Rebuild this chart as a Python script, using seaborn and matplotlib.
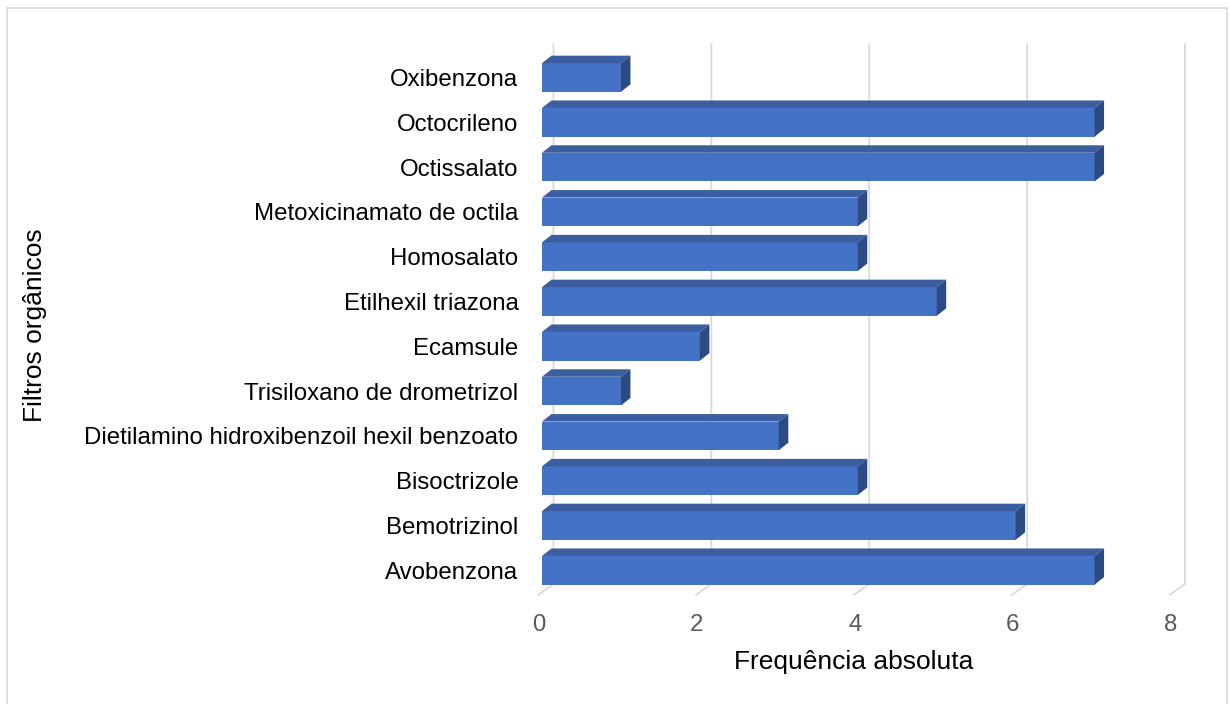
import matplotlib
matplotlib.use("Agg")
import matplotlib.pyplot as plt
import matplotlib.transforms as mtransforms
import seaborn as sns
import pandas as pd
from matplotlib.patches import Polygon, Rectangle
from matplotlib.lines import Line2D

categories = ["Oxibenzona", "Octocrileno", "Octissalato", "Metoxicinamato de octila",
              "Homosalato", "Etilhexil triazona", "Ecamsule", "Trisiloxano de drometrizol",
              "Dietilamino hidroxibenzoil hexil benzoato", "Bisoctrizole", "Bemotrizinol",
              "Avobenzona"]
values = [1, 7, 7, 4, 4, 5, 2, 1, 3, 4, 6, 7]
xticks = [0, 2, 4, 6, 8]
xlabel = "Frequência absoluta"
ylabel = "Filtros orgânicos"

df = pd.DataFrame({"cat": categories, "val": values})

sns.set_theme(style="white")
plt.rcParams["font.family"] = ["Liberation Sans", "DejaVu Sans"]

W, H = 1229, 704
fig = plt.figure(figsize=(W / 100, H / 100), dpi=100)
# pixel geometry
x0px, x8px = 542.0, 1173.5
ytop, ybot = 40.0, 597.0
ax = fig.add_axes([x0px / W, 1 - ybot / H, (x8px - x0px) / W, (ybot - ytop) / H])

front = "#4472C4"
topc = "#3A5E9F"
sidec = "#2C4A84"

sns.barplot(data=df, y="cat", x="val", orient="h", color=front, width=0.64,
            saturation=1, ax=ax, zorder=3, edgecolor="none")

pxx = (x8px - x0px) / 8.0  # px per x unit
pxy = 44.8                 # px per row
c0 = 77.5
ax.set_xlim(0, 8)
ax.set_ylim((ybot - c0) / pxy, (ytop - c0) / pxy)

# 3D faces
dx = 9.5 / pxx
dy = 7.5 / pxy
for p in ax.patches:
    bx, by = p.get_x(), p.get_y()
    bw, bh = p.get_width(), p.get_height()
    yt = min(by, by + bh)
    yb = max(by, by + bh)
    top = Polygon([(bx, yt), (bx + bw, yt), (bx + bw + dx, yt - dy), (bx + dx, yt - dy)],
                  closed=True, facecolor=topc, edgecolor="none", zorder=3, clip_on=False)
    side = Polygon([(bx + bw, yt), (bx + bw + dx, yt - dy), (bx + bw + dx, yb - dy), (bx + bw, yb)],
                   closed=True, facecolor=sidec, edgecolor="none", zorder=3, clip_on=False)
    ax.add_patch(top)
    ax.add_patch(side)

# back-plane gridlines with floor diagonals
gb = 11.5 / pxx
gf = -4.0 / pxx
gy_top = (44 - c0) / pxy
gy_back = (584 - c0) / pxy
gy_front = (595 - c0) / pxy
for t in xticks:
    ax.add_line(Line2D([t + gb, t + gb, t + gf], [gy_top, gy_back, gy_front],
                       color="#d9d9d9", lw=1.3, zorder=1, clip_on=False))

ax.set_xticks(xticks)
ax.set_xticklabels([str(t) for t in xticks])
ax.tick_params(axis="x", length=0, pad=12, labelsize=17.3, labelcolor="#595959")
ax.tick_params(axis="y", length=0, pad=17, labelsize=17.3, labelcolor="#000000")
shift = mtransforms.ScaledTranslation(-3 / 100, 0, fig.dpi_scale_trans)
for lab in ax.get_xticklabels():
    lab.set_transform(lab.get_transform() + shift)
for s in ax.spines.values():
    s.set_visible(False)
ax.set_xlabel("")
ax.set_ylabel("")
ax.grid(False)

fig.text(854 / W, 1 - 662 / H, xlabel, ha="center", va="center",
         fontsize=19, color="#000000")
fig.text(35 / W, 1 - 325 / H, ylabel, ha="center", va="center", rotation=90,
         fontsize=19, color="#000000")

fig.add_artist(Rectangle((7 / W, -0.02), (1227 - 7) / W, (H + 14 - 8) / H,
                         transform=fig.transFigure, fill=False, edgecolor="#d9d9d9", lw=1.2))

fig.savefig("out.png", dpi=100)
